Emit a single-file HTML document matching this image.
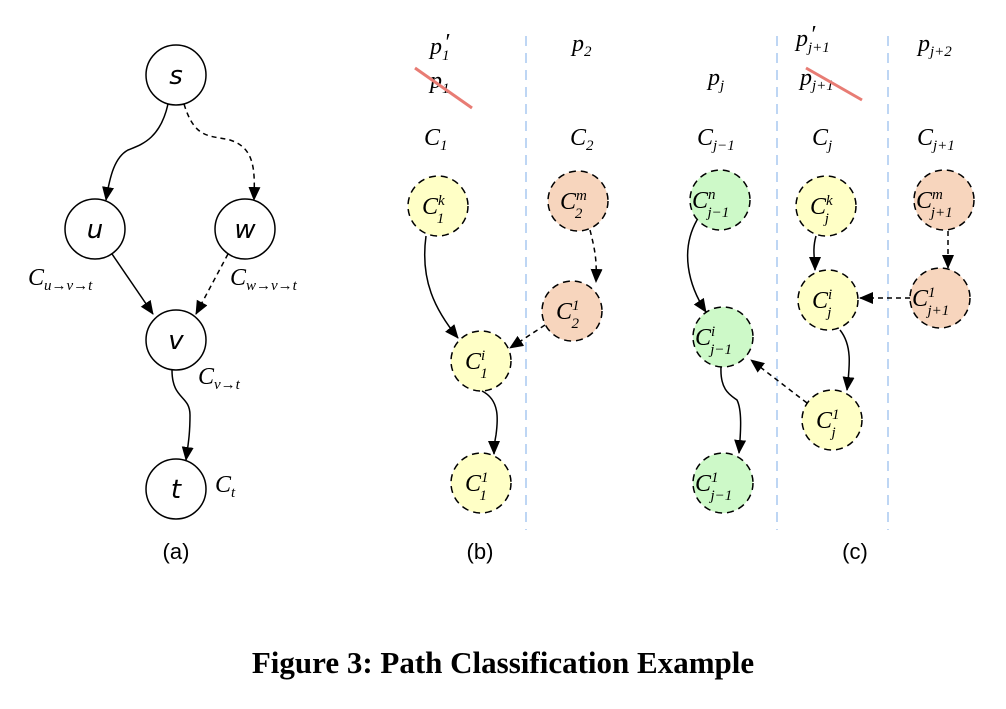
<!DOCTYPE html>
<html><head><meta charset="utf-8"><style>
body{margin:0;background:#fff;width:1006px;height:704px;overflow:hidden}
text{font-family:"Liberation Serif",serif}
.m{font-style:italic;font-size:24px}
.s{font-size:15px}
text.sa{font-family:"DejaVu Sans","Liberation Sans",sans-serif;font-style:italic;font-size:26px}
text.lab{font-family:"Liberation Sans",sans-serif;font-size:22px}
</style></head><body>
<svg width="1006" height="704" viewBox="0 0 1006 704">
<defs>
<marker id="b" markerWidth="14" markerHeight="14" refX="13" refY="7" orient="auto" markerUnits="userSpaceOnUse"><path d="M0,1 L14,7 L0,13 z" fill="#000"/></marker>
</defs>
<g fill="#fff" stroke="#000" stroke-width="1.5">
<circle cx="176" cy="75" r="30"/><circle cx="95" cy="229" r="30"/><circle cx="245" cy="229" r="30"/><circle cx="176" cy="340" r="30"/><circle cx="176" cy="489" r="30"/>
</g>
<text class="sa" text-anchor="middle" x="176" y="84">s</text>
<text class="sa" text-anchor="middle" x="95" y="238">u</text>
<text class="sa" text-anchor="middle" x="245" y="238">w</text>
<text class="sa" text-anchor="middle" x="176" y="349">v</text>
<text class="sa" text-anchor="middle" x="176" y="498">t</text>
<g fill="none" stroke="#000" stroke-width="1.5">
<path d="M168,104 C160,140 140,145 128,150 C115,157 110,175 106,200" marker-end="url(#b)"/>
<path d="M184,104 C195,140 210,135 230,140 C255,148 255,170 254,200" stroke-dasharray="5,4" marker-end="url(#b)"/>
<path d="M112,254 L153,314" marker-end="url(#b)"/>
<path d="M228,254 L196,314" stroke-dasharray="5,4" marker-end="url(#b)"/>
<path d="M172,370 C172,400 190,395 190,415 C190,435 188,445 186,460" marker-end="url(#b)"/>
</g>
<text class="m" x="28" y="285">C<tspan class="s" dy="5">u→v→t</tspan></text>
<text class="m" x="230" y="285">C<tspan class="s" dy="5">w→v→t</tspan></text>
<text class="m" x="198" y="384">C<tspan class="s" dy="5">v→t</tspan></text>
<text class="m" x="215" y="492">C<tspan class="s" dy="5">t</tspan></text>
<text class="lab" text-anchor="middle" x="176" y="559">(a)</text>
<text class="lab" text-anchor="middle" x="480" y="559">(b)</text>
<text class="lab" text-anchor="middle" x="855" y="559">(c)</text>
<g stroke="#a8c8f0" stroke-width="1.5" stroke-dasharray="10,7">
<line x1="526" y1="36" x2="526" y2="530"/><line x1="777" y1="36" x2="777" y2="530"/><line x1="888" y1="36" x2="888" y2="530"/></g>
<text class="m" x="430" y="54">p<tspan class="s" dy="6">1</tspan></text><text class="m" x="444" y="50" font-size="20">′</text>
<text class="m" x="430" y="88">p<tspan class="s" dy="5">1</tspan></text>
<line x1="415" y1="68" x2="472" y2="108" stroke="#e87c74" stroke-width="3"/>
<text class="m" x="572" y="51">p<tspan class="s" dy="5">2</tspan></text>
<text class="m" x="708" y="85">p<tspan class="s" dy="5">j</tspan></text>
<text class="m" x="796" y="46">p<tspan class="s" dy="6">j+1</tspan></text><text class="m" x="810" y="42" font-size="20">′</text>
<text class="m" x="800" y="85">p<tspan class="s" dy="5">j+1</tspan></text>
<line x1="806" y1="68" x2="862" y2="100" stroke="#e87c74" stroke-width="3"/>
<text class="m" x="918" y="51">p<tspan class="s" dy="5">j+2</tspan></text>
<text class="m" x="424" y="145">C<tspan class="s" dy="5">1</tspan></text>
<text class="m" x="570" y="145">C<tspan class="s" dy="5">2</tspan></text>
<text class="m" x="697" y="145">C<tspan class="s" dy="5">j−1</tspan></text>
<text class="m" x="812" y="145">C<tspan class="s" dy="5">j</tspan></text>
<text class="m" x="917" y="145">C<tspan class="s" dy="5">j+1</tspan></text>
<g stroke="#000" stroke-width="1.5" stroke-dasharray="7,5">
<circle cx="438" cy="206" r="30" fill="#ffffc6"/>
<circle cx="578" cy="201" r="30" fill="#f7d5bd"/>
<circle cx="572" cy="311" r="30" fill="#f7d5bd"/>
<circle cx="481" cy="361" r="30" fill="#ffffc6"/>
<circle cx="481" cy="483" r="30" fill="#ffffc6"/>
<circle cx="720" cy="200" r="30" fill="#cdf9c8"/>
<circle cx="826" cy="206" r="30" fill="#ffffc6"/>
<circle cx="944" cy="200" r="30" fill="#f7d5bd"/>
<circle cx="828" cy="300" r="30" fill="#ffffc6"/>
<circle cx="940" cy="298" r="30" fill="#f7d5bd"/>
<circle cx="723" cy="337" r="30" fill="#cdf9c8"/>
<circle cx="832" cy="420" r="30" fill="#ffffc6"/>
<circle cx="723" cy="483" r="30" fill="#cdf9c8"/>
</g>
<text class="m" x="422" y="214">C<tspan class="s" dy="-9">k</tspan><tspan class="s" dx="-8" dy="18">1</tspan></text>
<text class="m" x="560" y="209">C<tspan class="s" dy="-9">m</tspan><tspan class="s" dx="-12" dy="18">2</tspan></text>
<text class="m" x="556" y="319">C<tspan class="s" dy="-9">1</tspan><tspan class="s" dx="-8" dy="18">2</tspan></text>
<text class="m" x="465" y="369">C<tspan class="s" dy="-9">i</tspan><tspan class="s" dx="-5" dy="18">1</tspan></text>
<text class="m" x="465" y="491">C<tspan class="s" dy="-9">1</tspan><tspan class="s" dx="-8" dy="18">1</tspan></text>
<text class="m" x="692" y="208">C<tspan class="s" dy="-9">n</tspan><tspan class="s" dx="-8" dy="18">j−1</tspan></text>
<text class="m" x="810" y="214">C<tspan class="s" dy="-9">k</tspan><tspan class="s" dx="-8" dy="18">j</tspan></text>
<text class="m" x="916" y="208">C<tspan class="s" dy="-9">m</tspan><tspan class="s" dx="-12" dy="18">j+1</tspan></text>
<text class="m" x="812" y="308">C<tspan class="s" dy="-9">i</tspan><tspan class="s" dx="-5" dy="18">j</tspan></text>
<text class="m" x="912" y="306">C<tspan class="s" dy="-9">1</tspan><tspan class="s" dx="-8" dy="18">j+1</tspan></text>
<text class="m" x="695" y="345">C<tspan class="s" dy="-9">i</tspan><tspan class="s" dx="-5" dy="18">j−1</tspan></text>
<text class="m" x="816" y="428">C<tspan class="s" dy="-9">1</tspan><tspan class="s" dx="-8" dy="18">j</tspan></text>
<text class="m" x="695" y="491">C<tspan class="s" dy="-9">1</tspan><tspan class="s" dx="-8" dy="18">j−1</tspan></text>
<g fill="none" stroke="#000" stroke-width="1.5">
<path d="M426,236 C420,280 435,310 458,338" marker-end="url(#b)"/>
<path d="M590,230 C595,250 597,260 596,282" stroke-dasharray="5,4" marker-end="url(#b)"/>
<path d="M545,325 L510,348" stroke-dasharray="5,4" marker-end="url(#b)"/>
<path d="M482,391 C500,400 498,420 496,435 C494,445 494,452 494,454" marker-end="url(#b)"/>
<path d="M697,220 C680,250 688,285 706,312" marker-end="url(#b)"/>
<path d="M816,236 C812,250 815,260 815,270" marker-end="url(#b)"/>
<path d="M948,231 L948,268" stroke-dasharray="5,4" marker-end="url(#b)"/>
<path d="M910,298 L860,298" stroke-dasharray="5,4" marker-end="url(#b)"/>
<path d="M840,330 C852,345 850,365 847,390" marker-end="url(#b)"/>
<path d="M807,403 L751,360" stroke-dasharray="5,4" marker-end="url(#b)"/>
<path d="M721,367 C720,390 730,395 737,400 C742,410 741,430 739,453" marker-end="url(#b)"/>
</g>
<text x="503" y="673" text-anchor="middle" font-weight="bold" font-size="31">Figure 3: Path Classification Example</text>
</svg>
</body></html>
